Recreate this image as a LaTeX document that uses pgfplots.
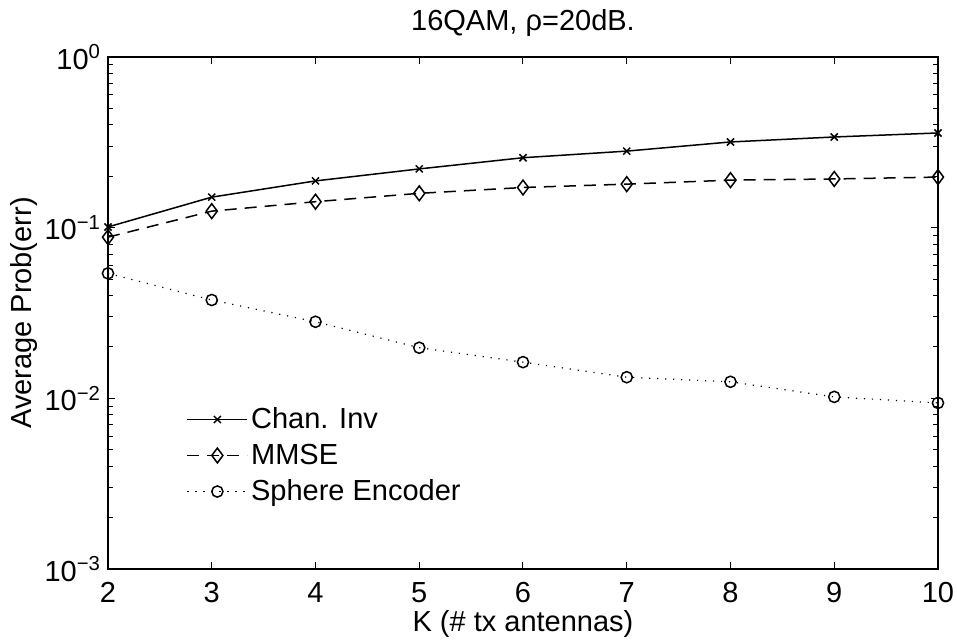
\documentclass[border=0pt]{standalone}
\usepackage{fontspec}
\setmainfont{Liberation Sans}
\usepackage{pgfplots}
\pgfplotsset{compat=1.18}

\pgfplotstableread{
K   chinv  mmse   sphere
2   0.101  0.088  0.054
3   0.151  0.125  0.0377
4   0.188  0.142  0.0281
5   0.221  0.159  0.0198
6   0.257  0.172  0.0163
7   0.281  0.180  0.0133
8   0.318  0.190  0.0125
9   0.340  0.193  0.0102
10  0.359  0.198  0.0094
}\errdata

\newcommand{\fs}{\fontsize{14.5}{17.5}\selectfont}

\begin{document}
\begin{tikzpicture}
\begin{axis}[
  scale only axis, width=415pt, height=256pt,
  ymode=log,
  xmin=2, xmax=10, ymin=1e-3, ymax=1,
  xtick={2,3,4,5,6,7,8,9,10},
  xticklabels={2,3,4,5,6,7,8,9,10},
  ytick={1e-3,1e-2,1e-1,1},
  yticklabels={10\textsuperscript{−3},10\textsuperscript{−2},10\textsuperscript{−1},10\textsuperscript{0}},
  tick label style={font=\fs},
  xticklabel style={anchor=base, yshift=-16.5pt},
  major tick length=3.5pt, minor tick length=2.3pt,
  tick style={black, line width=0.5pt},
  axis line style={line width=0.6pt},
  title={16QAM, ρ=20dB.},
  title style={font=\fs, at={(axis description cs:0.5,1.0283)}, anchor=base},
  xlabel={K (\# tx antennas)},
  xlabel style={font=\fs, at={(axis description cs:0.5,-0.123)}, anchor=base},
  ylabel={Average Prob(err)},
  ylabel style={font=\fs, at={(axis description cs:-0.0916,0.5)}, anchor=base},
  legend style={draw=none, fill=none, font=\fs,
    at={(axis description cs:0.087,0.33)}, anchor=north west,
    row sep=3.2pt, nodes={inner sep=1.5pt}},
  legend cell align=left,
  legend image code/.code={\draw[mark repeat=2,mark phase=2] plot coordinates {(0pt,0pt) (15pt,0pt) (30pt,0pt)};},
]
\addplot[black, line width=0.75pt, mark=x, mark size=2.5pt] table[x=K,y=chinv] {\errdata};
\addlegendentry{Chan. Inv}
\addplot[black, line width=0.75pt, dash pattern=on 6pt off 4pt, mark=diamond, mark size=3.7pt, mark options={solid}] table[x=K,y=mmse] {\errdata};
\addlegendentry{MMSE}
\addplot[black, line width=0.6pt, dash pattern=on 0.6pt off 3.4pt, mark=o, mark size=2.8pt, mark options={solid, line width=0.75pt}] table[x=K,y=sphere] {\errdata};
\addlegendentry{Sphere Encoder}
\end{axis}
\pgfresetboundingbox
\path[use as bounding box] (-54pt,-35pt) rectangle (424.5pt,284.5pt);
\end{tikzpicture}
\end{document}
